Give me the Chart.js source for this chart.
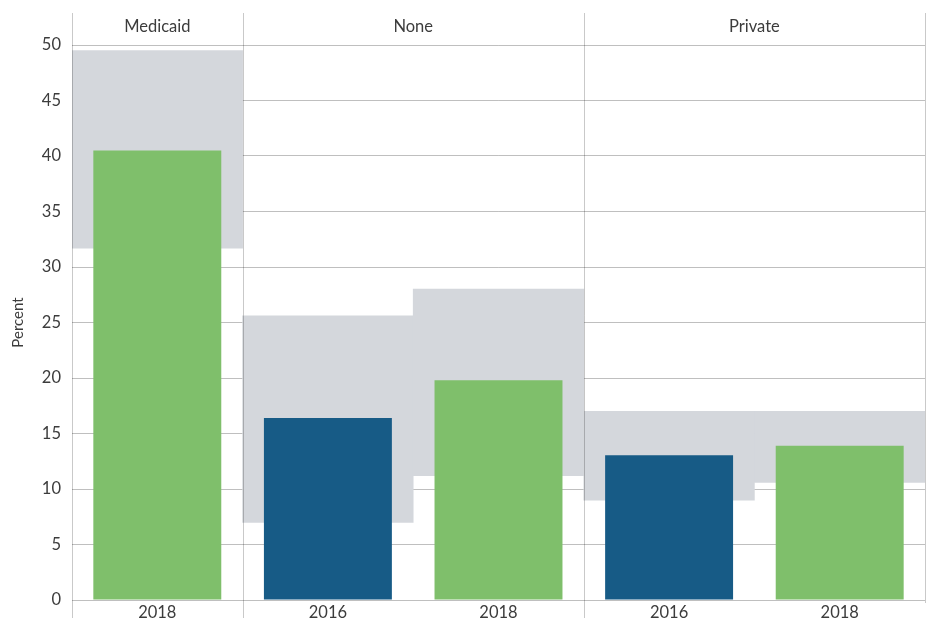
<!DOCTYPE html>
<html>
<head>
<meta charset="utf-8">
<script src="https://cdn.jsdelivr.net/npm/chart.js@4"></script>
<style>
  html, body { margin: 0; padding: 0; background: #fff; }
  #wrap { width: 926px; height: 623px; position: relative; }
</style>
</head>
<body>
<div id="wrap"><canvas id="c" width="926" height="623"></canvas></div>
<script>
// ---- data ----
const panels = ["Medicaid", "None", "Private"];
const panelSpans = [1, 2, 2];           // number of year categories in each panel
const years = ["2018", "2016", "2018", "2016", "2018"];
const percentValues = [40.5, 16.4, 19.8, 13.05, 13.9];
const ciLow =  [31.7, 7.0, 11.2, 9.0, 10.6];
const ciHigh = [49.5, 25.6, 28.0, 17.0, 17.0];
const yTicks = [0, 5, 10, 15, 20, 25, 30, 35, 40, 45, 50];

const GREEN = "#7fbf6b";
const BLUE = "#175b86";
const BAND = "#d4d7dc";
const LINE = "rgba(0,0,0,0.25)";
const TEXT = "#3c3c3c";
const FONT = "Lato, 'Noto Sans', sans-serif";

const facetPlugin = {
  id: "facets",
  afterDraw(chart) {
    const ctx = chart.ctx;
    const xs = chart.scales.x;
    const ca = chart.chartArea;
    const half = (xs.getPixelForValue(1) - xs.getPixelForValue(0)) / 2;
    const bounds = [ca.left];
    let idx = 0;
    panelSpans.forEach(s => { idx += s; bounds.push(xs.getPixelForValue(idx - 1) + half); });
    ctx.save();
    ctx.strokeStyle = "rgba(0,0,0,0.21)";
    ctx.lineWidth = 1;
    bounds.forEach((b, i) => {
      const x = Math.round(b) + 0.5;
      ctx.beginPath();
      ctx.moveTo(x, 13);
      ctx.lineTo(x, i === bounds.length - 1 ? ca.bottom + 3 : 618);
      ctx.stroke();
    });
    ctx.fillStyle = TEXT;
    ctx.font = "16.5px " + FONT;
    ctx.textAlign = "center";
    ctx.textBaseline = "middle";
    panels.forEach((p, i) => {
      ctx.fillText(p, (bounds[i] + bounds[i + 1]) / 2, 27);
    });
    ctx.translate(18, (ca.top + ca.bottom) / 2);
    ctx.rotate(-Math.PI / 2);
    ctx.font = "15px " + FONT;
    ctx.fillText("Percent", 0, 0);
    ctx.restore();
  }
};

new Chart(document.getElementById("c"), {
  type: "bar",
  data: {
    labels: years,
    datasets: [
      {
        label: "Percent",
        data: percentValues,
        backgroundColor: years.map(y => y === "2016" ? BLUE : GREEN),
        barPercentage: 0.75,
        categoryPercentage: 1,
        grouped: false,
        borderWidth: 0
      },
      {
        label: "CI",
        data: ciLow.map((lo, i) => [lo, ciHigh[i]]),
        backgroundColor: BAND,
        barPercentage: 1,
        categoryPercentage: 1,
        grouped: false,
        borderWidth: 0
      }
    ]
  },
  options: {
    responsive: false,
    animation: false,
    devicePixelRatio: 1,
    layout: { padding: { top: 45, right: 1, left: 0, bottom: 0 } },
    plugins: { legend: { display: false }, tooltip: { enabled: false } },
    scales: {
      x: {
        grid: { display: false, drawTicks: false },
        border: { display: false },
        ticks: { color: TEXT, font: { family: FONT, size: 16.5 }, padding: 3, maxRotation: 0 },
        afterFit(s) { s.height = 23; }
      },
      y: {
        min: 0, max: 50,
        z: 1,
        afterBuildTicks(s) { s.ticks = yTicks.map(v => ({ value: v })); },
        grid: { color: LINE, drawTicks: false },
        border: { display: false },
        ticks: { color: TEXT, font: { family: FONT, size: 16.5 }, padding: 11 },
        afterFit(s) { s.width = 72; }
      }
    }
  },
  plugins: [facetPlugin]
});
</script>
</body>
</html>
